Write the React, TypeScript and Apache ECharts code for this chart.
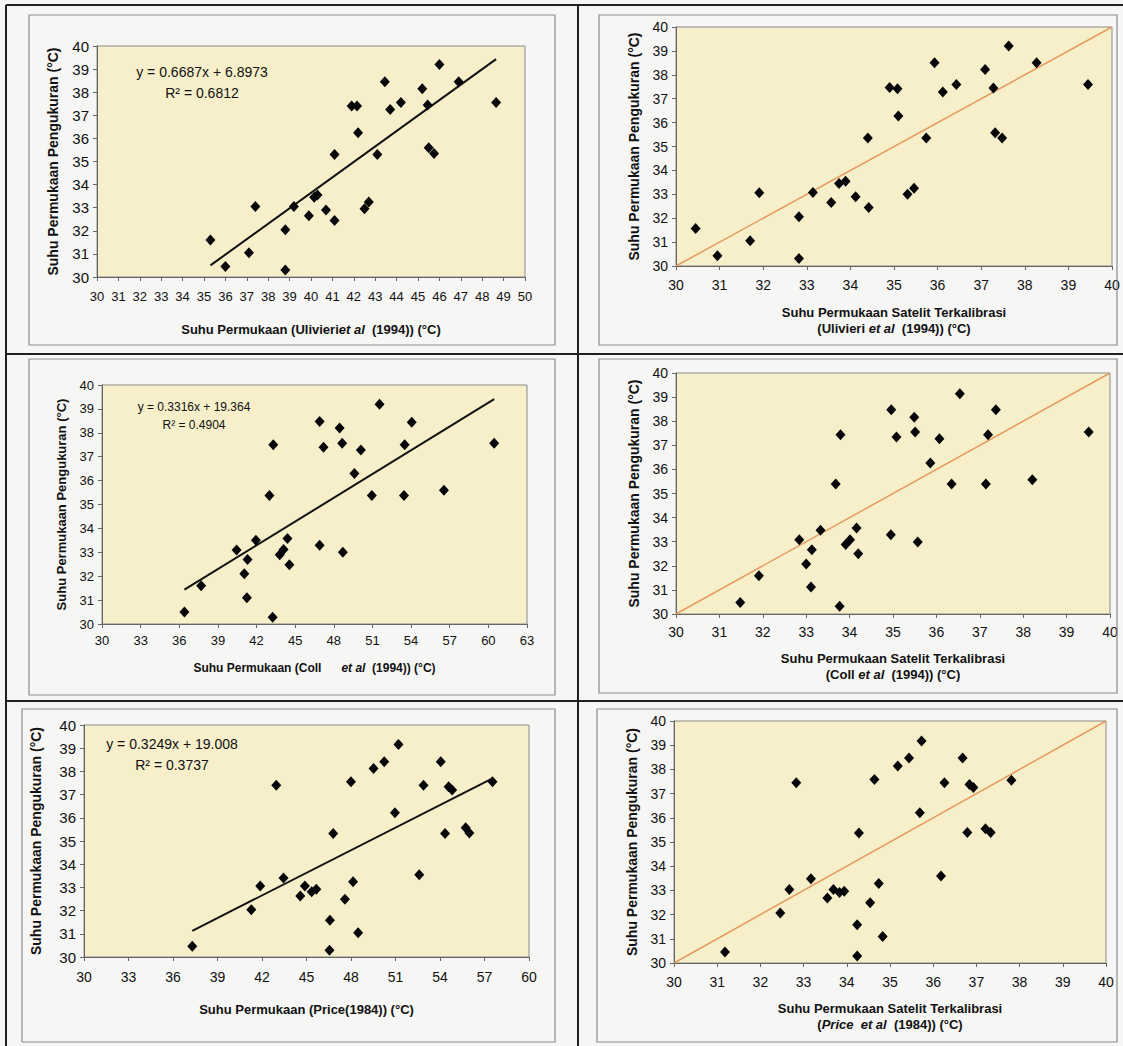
import React, { useEffect, useRef } from "react";
import * as echarts from "echarts";

// ---------- DATA ----------
// Panel 1: Ulivieri et al (1994), raw surface temperature vs measured
const ulivieriRaw: number[][] = [
  [35.3, 31.6], [36.0, 30.45], [37.1, 31.05], [37.4, 33.05], [38.8, 32.05], [38.8, 30.3],
  [39.2, 33.05], [39.9, 32.65], [40.15, 33.45], [40.3, 33.55], [40.7, 32.9], [41.1, 32.45],
  [41.1, 35.3], [41.9, 37.4], [42.15, 37.4], [42.2, 36.25], [42.5, 32.95], [42.7, 33.25],
  [43.1, 35.3], [43.45, 38.45], [43.7, 37.25], [44.2, 37.55], [45.2, 38.15], [45.45, 37.45],
  [45.5, 35.6], [45.75, 35.35], [46.0, 39.2], [46.9, 38.45], [48.65, 37.55],
];
// Panel 2: calibrated Ulivieri vs measured
const ulivieriCal: number[][] = [
  [30.45, 31.57], [30.95, 30.43], [31.7, 31.06], [31.91, 33.06], [32.82, 32.06], [32.82, 30.31],
  [33.14, 33.08], [33.56, 32.66], [33.74, 33.45], [33.89, 33.55], [34.12, 32.9], [34.42, 32.45],
  [34.4, 35.36], [34.9, 37.47], [35.08, 37.42], [35.1, 36.28], [35.31, 33.0], [35.46, 33.25],
  [35.74, 35.36], [35.93, 38.5], [36.12, 37.28], [36.43, 37.59], [37.09, 38.22], [37.28, 37.45],
  [37.32, 35.58], [37.48, 35.36], [37.63, 39.21], [38.27, 38.5], [39.45, 37.59],
];
// Panel 3: Coll et al (1994)
const collRaw: number[][] = [
  [36.4, 30.5], [37.7, 31.6], [40.45, 33.1], [41.25, 31.1], [41.05, 32.1], [41.3, 32.7],
  [41.95, 33.5], [43.0, 35.38], [43.3, 37.5], [43.25, 30.28], [43.8, 32.9], [44.1, 33.12],
  [44.4, 33.58], [44.55, 32.48], [46.9, 38.47], [46.9, 33.3], [47.2, 37.4], [48.45, 38.2],
  [48.65, 37.56], [48.7, 33.0], [49.6, 36.3], [50.1, 37.28], [50.95, 35.38], [51.55, 39.19],
  [53.5, 37.5], [53.45, 35.38], [54.05, 38.44], [56.55, 35.6], [60.45, 37.56],
];
// Panel 4: calibrated Coll vs measured
const collCal: number[][] = [
  [31.48, 30.48], [31.91, 31.59], [32.84, 33.08], [33.0, 32.07], [33.11, 31.12], [33.13, 32.67],
  [33.33, 33.47], [33.68, 35.39], [33.79, 37.44], [33.77, 30.32], [33.91, 32.88], [34.01, 33.08],
  [34.16, 33.57], [34.2, 32.5], [34.96, 38.48], [34.95, 33.29], [35.08, 37.34], [35.49, 38.16],
  [35.51, 37.55], [35.57, 32.99], [35.86, 36.27], [36.07, 37.27], [36.35, 35.39], [36.54, 39.14],
  [37.14, 35.39], [37.19, 37.44], [37.37, 38.48], [38.21, 35.57], [39.51, 37.55],
];
// Panel 5: Price (1984)
const priceRaw: number[][] = [
  [37.3, 30.46], [41.28, 32.04], [41.88, 33.06], [42.96, 37.4], [43.45, 33.41], [44.58, 32.63],
  [44.89, 33.06], [45.35, 32.81], [45.66, 32.92], [46.58, 31.58], [46.55, 30.29], [46.8, 35.32],
  [47.59, 32.49], [48.0, 37.55], [48.14, 33.24], [48.48, 31.05], [49.52, 38.12], [50.24, 38.42],
  [50.96, 36.22], [51.2, 39.16], [52.6, 33.55], [52.89, 37.4], [54.05, 38.42], [54.34, 35.32],
  [54.58, 37.34], [54.82, 37.2], [55.73, 35.57], [55.98, 35.35], [57.54, 37.55],
];
// Panel 6: calibrated Price vs measured
const priceCal: number[][] = [
  [31.18, 30.45], [32.46, 32.07], [32.67, 33.04], [32.83, 37.45], [33.17, 33.48], [33.55, 32.69],
  [33.69, 33.04], [33.83, 32.91], [33.94, 32.96], [34.24, 31.58], [34.24, 30.29], [34.28, 35.37],
  [34.54, 32.49], [34.64, 37.58], [34.74, 33.28], [34.83, 31.1], [35.18, 38.14], [35.44, 38.47],
  [35.69, 36.21], [35.73, 39.17], [36.18, 33.6], [36.26, 37.45], [36.68, 38.47], [36.79, 35.39],
  [36.84, 37.38], [36.93, 37.25], [37.21, 35.55], [37.33, 35.39], [37.81, 37.55],
];

// Trend line equations shown in the left-hand panels
const trendSlopes = [0.6687, 0.3316, 0.3249];
const trendIntercepts = [6.8973, 19.364, 19.008];
const trendR2 = ["0.6812", "0.4904", "0.3737"];

// 1:1 reference line on the calibrated panels: xs, ys
const identityLine: number[][] = [[30, 40], [30, 40]];

// Axis ranges: min, max, interval
const yRange = [30, 40, 1];
const xRanges = [
  [30, 50, 1], [30, 40, 1],
  [30, 63, 3], [30, 40, 1],
  [30, 60, 3], [30, 40, 1],
];

const FONT = '"Liberation Sans", Arial, Helvetica, sans-serif';
const INK = "#111111";

export default function App() {
  const ref = useRef<HTMLDivElement>(null);

  useEffect(() => {
    if (!ref.current) return;
    const chart = echarts.init(ref.current, null, { renderer: "svg" });

    const datasets = [ulivieriRaw, ulivieriCal, collRaw, collCal, priceRaw, priceCal];

    const grids = [
      { left: 97, top: 46, width: 428, height: 231 },
      { left: 676, top: 27, width: 436, height: 239 },
      { left: 102, top: 385, width: 425, height: 239 },
      { left: 676, top: 373, width: 434, height: 241 },
      { left: 84, top: 725, width: 445, height: 232 },
      { left: 674, top: 721, width: 432, height: 242 },
    ].map((g) => ({
      ...g,
      show: true,
      backgroundColor: "#f6efca",
      borderColor: "#8a8a8a",
      borderWidth: 1,
      containLabel: false,
    }));

    const italicRich = {
      i: { fontStyle: "italic", fontWeight: "bold", fontFamily: FONT, fontSize: 13, color: INK },
      b: { fontWeight: "bold", fontFamily: FONT, fontSize: 13, color: INK },
    };

    const xNames = [
      "Suhu Permukaan (Ulivieri{i|et al}  (1994)) (°C)",
      "{b|Suhu Permukaan Satelit Terkalibrasi}\n(Ulivieri {i|et al}  (1994)) (°C)",
      "Suhu Permukaan (Coll      {i|et al}  (1994)) (°C)",
      "{b|Suhu Permukaan Satelit Terkalibrasi}\n(Coll {i|et al}  (1994)) (°C)",
      "Suhu Permukaan (Price(1984)) (°C)",
      "{b|Suhu Permukaan Satelit Terkalibrasi}\n({i|Price  et al}  (1984)) (°C)",
    ];
    const xNameGaps = [44, 38, 36, 36, 44, 37];
    const xNameSizes = [13, 13, 12, 13, 13, 13];
    const xLabelMargins = [13, 12, 10, 11, 13, 12];
    const xLabelSizes = [13, 14, 13, 14, 14, 14];
    const yNameGaps = [37, 35, 34, 35, 41, 35];
    const yNameSizes = [14, 14, 13, 14, 14, 14];
    const yLabelSizes = [15, 14, 13, 14, 15, 14];

    const xAxes = xRanges.map((r, i) => ({
      type: "value",
      gridIndex: i,
      min: r[0],
      max: r[1],
      interval: r[2],
      name: xNames[i],
      nameLocation: "middle",
      nameGap: xNameGaps[i],
      nameTextStyle: {
        fontFamily: FONT,
        fontWeight: "bold",
        fontSize: xNameSizes[i],
        color: INK,
        lineHeight: 16,
        rich: {
          i: { ...italicRich.i, fontSize: xNameSizes[i] },
          b: { ...italicRich.b, fontSize: xNameSizes[i] },
        },
      },
      axisLine: { show: true, onZero: false, lineStyle: { color: "#666", width: 1 } },
      axisTick: { show: true, inside: false, length: 4, lineStyle: { color: "#666" } },
      splitLine: { show: false },
      axisLabel: {
        fontFamily: FONT,
        fontSize: xLabelSizes[i],
        color: INK,
        margin: xLabelMargins[i],
        hideOverlap: false,
        showMinLabel: true,
        showMaxLabel: true,
      },
    }));

    const yAxes = datasets.map((_, i) => ({
      type: "value",
      gridIndex: i,
      min: yRange[0],
      max: yRange[1],
      interval: yRange[2],
      name: "Suhu Permukaan Pengukuran (°C)",
      nameLocation: "middle",
      nameRotate: 90,
      nameGap: yNameGaps[i],
      nameTextStyle: { fontFamily: FONT, fontWeight: "bold", fontSize: yNameSizes[i], color: INK },
      axisLine: { show: true, onZero: false, lineStyle: { color: "#666", width: 1 } },
      axisTick: { show: true, inside: false, length: 4, lineStyle: { color: "#666" } },
      splitLine: { show: false },
      axisLabel: { fontFamily: FONT, fontSize: yLabelSizes[i], color: INK, margin: 8 },
    }));

    const series: any[] = [];
    datasets.forEach((d, i) => {
      const isRaw = i % 2 === 0;
      if (isRaw) {
        const k = i / 2;
        const xs = d.map((p) => p[0]);
        const x0 = Math.min(...xs);
        const x1 = Math.max(...xs);
        series.push({
          type: "line",
          xAxisIndex: i,
          yAxisIndex: i,
          data: [
            [x0, trendSlopes[k] * x0 + trendIntercepts[k]],
            [x1, trendSlopes[k] * x1 + trendIntercepts[k]],
          ],
          symbol: "none",
          lineStyle: { color: "#111", width: 2 },
          silent: true,
          z: 2,
        });
      } else {
        series.push({
          type: "line",
          xAxisIndex: i,
          yAxisIndex: i,
          data: [
            [identityLine[0][0], identityLine[1][0]],
            [identityLine[0][1], identityLine[1][1]],
          ],
          symbol: "none",
          lineStyle: { color: "#e59a5e", width: 1.5 },
          silent: true,
          z: 2,
        });
      }
      series.push({
        type: "scatter",
        xAxisIndex: i,
        yAxisIndex: i,
        data: d,
        symbol: "diamond",
        symbolSize: [10, 11],
        itemStyle: { color: "#05050a", opacity: 1 },
        z: 3,
      });
    });

    // Equation labels (positions are layout only; text comes from the coefficient arrays)
    const eqPos = [
      { x: 202, y1: 72, y2: 93, size: 14 },
      { x: 194, y1: 407, y2: 425, size: 12 },
      { x: 172, y1: 744, y2: 765, size: 14 },
    ];
    const eqTexts: any[] = [];
    eqPos.forEach((p, k) => {
      eqTexts.push({
        type: "text",
        x: p.x,
        y: p.y1,
        z: 10,
        style: {
          text: `y = ${trendSlopes[k]}x + ${trendIntercepts[k]}`,
          fontFamily: FONT,
          fontSize: p.size,
          fill: INK,
          align: "center",
          verticalAlign: "middle",
        },
      });
      eqTexts.push({
        type: "text",
        x: p.x,
        y: p.y2,
        z: 10,
        style: {
          text: `R² = ${trendR2[k]}`,
          fontFamily: FONT,
          fontSize: p.size,
          fill: INK,
          align: "center",
          verticalAlign: "middle",
        },
      });
    });

    const frames = [
      [29, 15, 526, 330],
      [599, 15, 518, 330],
      [29, 359, 526, 336],
      [599, 359, 518, 334],
      [22, 709, 533, 333],
      [597, 709, 520, 333],
    ].map((f) => ({
      type: "rect",
      shape: { x: f[0], y: f[1], width: f[2], height: f[3] },
      style: { fill: "none", stroke: "#8c8c8c", lineWidth: 1.2 },
      silent: true,
      z: 1,
    }));

    const rules = [
      { x1: 6, y1: 5, x2: 1123, y2: 5 },
      { x1: 6, y1: 5, x2: 6, y2: 1046 },
      { x1: 578, y1: 5, x2: 578, y2: 1046 },
      { x1: 6, y1: 354, x2: 1123, y2: 354 },
      { x1: 6, y1: 701, x2: 1123, y2: 701 },
    ].map((s) => ({
      type: "line",
      shape: s,
      style: { stroke: "#202020", lineWidth: 2 },
      silent: true,
      z: 1,
    }));

    chart.setOption({
      animation: false,
      backgroundColor: "#f6f6f4",
      textStyle: { fontFamily: FONT },
      grid: grids,
      xAxis: xAxes,
      yAxis: yAxes,
      series,
      graphic: [...frames, ...rules, ...eqTexts],
    });

    return () => chart.dispose();
  }, []);

  return (
    <div
      ref={ref}
      style={{ position: "absolute", left: 0, top: 0, width: 1123, height: 1046 }}
    />
  );
}
